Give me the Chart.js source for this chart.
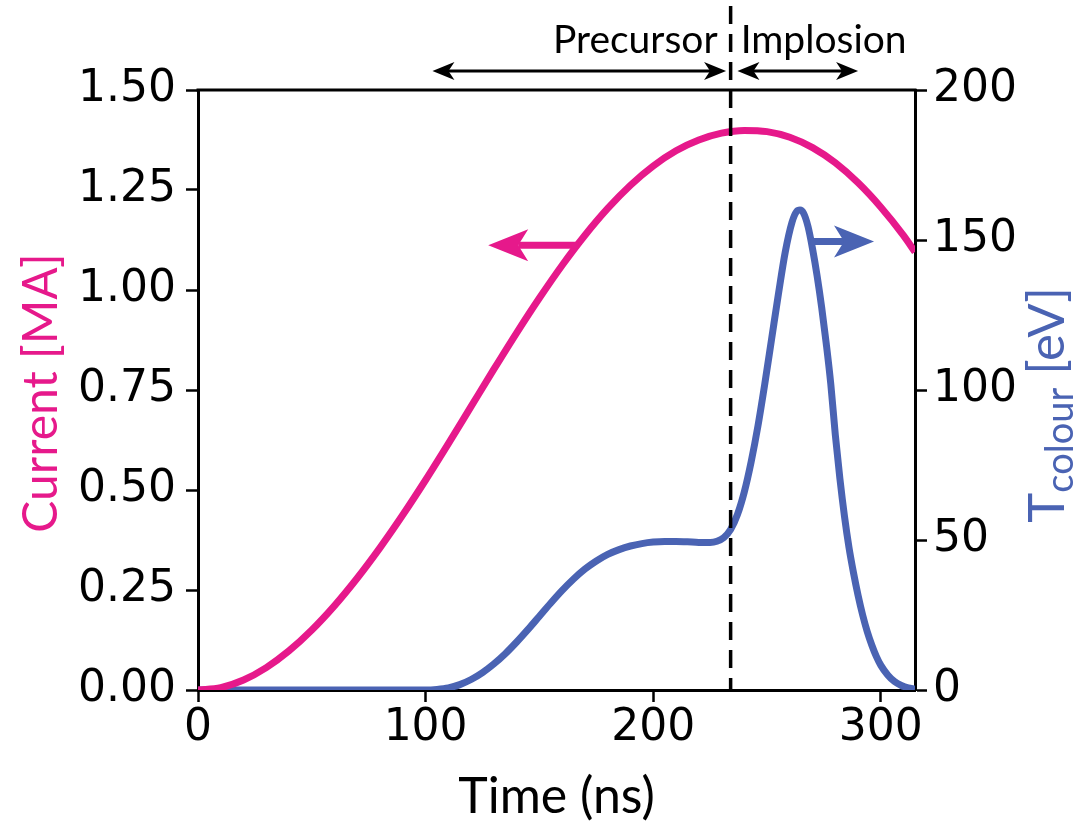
<!DOCTYPE html>
<html>
<head>
<meta charset="utf-8">
<script src="https://cdn.jsdelivr.net/npm/chart.js@4/dist/chart.umd.min.js"></script>
<style>
  html, body { margin: 0; padding: 0; background: #ffffff; }
  #wrap { width: 1086px; height: 822px; position: relative; }
</style>
</head>
<body>
<div id="wrap"><canvas id="c"></canvas></div>
<script>
// ---- data ----
const timeNs = [0, 10, 20, 30, 40, 50, 60, 70, 80, 90, 100, 110, 120, 130, 140, 150, 160, 170, 180, 190, 200, 210, 220, 230, 240, 250, 260, 270, 280, 290, 300, 310, 315];
const currentMA = [0, 0.006, 0.025, 0.056, 0.098, 0.150, 0.211, 0.280, 0.356, 0.438, 0.525, 0.616, 0.709, 0.802, 0.893, 0.980, 1.062, 1.137, 1.204, 1.262, 1.310, 1.348, 1.375, 1.392, 1.399, 1.396, 1.382, 1.356, 1.318, 1.268, 1.207, 1.136, 1.095];

const tempTimeNs = [0, 100, 105, 110, 115, 120, 125, 130, 135, 140, 145, 150, 155, 160, 165, 170, 175, 180, 185, 190, 195, 200, 205, 210, 215, 220, 225, 228, 231, 234, 237, 240, 243, 246, 249, 252, 255, 258, 261, 263, 264.5, 266, 268, 270, 272, 274, 276, 278, 280, 282, 284, 286, 288, 290, 292, 294, 296, 298, 300, 303, 306, 309, 312, 315];
const tempEV = [0, 0, 0.2, 0.7, 1.8, 3.5, 5.8, 8.7, 12.1, 16, 20.2, 24.6, 29, 33.2, 37, 40.3, 43, 45.2, 46.8, 48, 48.8, 49.3, 49.5, 49.5, 49.4, 49.2, 49.2, 49.6, 50.8, 53.5, 58.5, 66, 76, 88, 102, 117, 132, 146, 156, 159.5, 160, 159, 154.5, 147, 138, 127.5, 115.5, 102, 85, 70.5, 58, 47.5, 39, 31.5, 25, 19.5, 15, 11.2, 8.2, 5, 2.8, 1.5, 0.7, 0.3];

const xTicks = [0, 100, 200, 300];
const yLeftTicks = [0, 0.25, 0.5, 0.75, 1.0, 1.25, 1.5];
const yRightTicks = [0, 50, 100, 150, 200];

const splitTimeNs = 234;            // dashed separator
const precursorSpan = [103, 232];    // arrow span (ns)
const implosionSpan = [237, 290];    // arrow span (ns)

const PINK = '#e6198b';
const BLUE = '#4a63b3';
const TICK_FONT = { family: 'DejaVu Sans', size: 44 };

function arrowHead(ctx, tipX, tipY, dir, len, half, notch) {
  ctx.beginPath();
  ctx.moveTo(tipX, tipY);
  ctx.lineTo(tipX - dir * len, tipY - half);
  ctx.lineTo(tipX - dir * (len - notch), tipY);
  ctx.lineTo(tipX - dir * len, tipY + half);
  ctx.closePath();
  ctx.fill();
}

const overlay = {
  id: 'overlay',
  afterDatasetsDraw(chart) {
    const { ctx, chartArea: a, scales } = chart;
    const x = scales.x, y = scales.y, y2 = scales.y2;
    ctx.save();
    // top spine
    ctx.strokeStyle = '#000';
    ctx.lineWidth = 3;
    ctx.beginPath();
    ctx.moveTo(a.left - 1.5, a.top);
    ctx.lineTo(a.right + 1.5, a.top);
    ctx.stroke();

    // dashed separator
    const xs = x.getPixelForValue(splitTimeNs);
    ctx.setLineDash([18, 10]);
    ctx.lineWidth = 3.5;
    ctx.beginPath();
    ctx.moveTo(xs, 6);
    ctx.lineTo(xs, a.bottom);
    ctx.stroke();
    ctx.setLineDash([]);

    // top double arrows
    const ay = 71;
    ctx.lineWidth = 3;
    ctx.fillStyle = '#000';
    [precursorSpan, implosionSpan].forEach(([t0, t1]) => {
      const p0 = x.getPixelForValue(t0), p1 = x.getPixelForValue(t1);
      ctx.beginPath();
      ctx.moveTo(p0 + 8, ay);
      ctx.lineTo(p1 - 8, ay);
      ctx.stroke();
      arrowHead(ctx, p0, ay, -1, 22, 9, 6);
      arrowHead(ctx, p1, ay, 1, 22, 9, 6);
    });

    // top labels
    ctx.font = '39px Lato';
    ctx.textBaseline = 'alphabetic';
    ctx.fillStyle = '#000';
    ctx.textAlign = 'right';
    ctx.fillText('Precursor', xs - 13, 53);
    ctx.textAlign = 'left';
    ctx.fillText('Implosion', xs + 10, 53);

    // pink axis-pointer arrow
    const py = y.getPixelForValue(1.112);
    const pTail = x.getPixelForValue(167), pTip = x.getPixelForValue(127.5);
    ctx.strokeStyle = PINK; ctx.fillStyle = PINK; ctx.lineWidth = 7;
    ctx.beginPath(); ctx.moveTo(pTail, py); ctx.lineTo(pTip + 30, py); ctx.stroke();
    arrowHead(ctx, pTip, py, -1, 40, 16, 10);

    // blue axis-pointer arrow
    const by = y2.getPixelForValue(149.5);
    const bTail = x.getPixelForValue(269), bTip = x.getPixelForValue(297);
    ctx.strokeStyle = BLUE; ctx.fillStyle = BLUE;
    ctx.beginPath(); ctx.moveTo(bTail, by); ctx.lineTo(bTip - 30, by); ctx.stroke();
    arrowHead(ctx, bTip, by, 1, 40, 16, 10);

    // axis titles
    ctx.textAlign = 'center';
    ctx.textBaseline = 'middle';
    ctx.fillStyle = '#000';
    ctx.font = '50px Lato';
    ctx.fillText('Time (ns)', (a.left + a.right) / 2, 797);

    ctx.save();
    ctx.translate(42, 393);
    ctx.rotate(-Math.PI / 2);
    ctx.font = '48px Lato';
    ctx.fillStyle = PINK;
    ctx.fillText('Current [MA]', 0, 0);
    ctx.restore();

    // right title with subscript
    ctx.save();
    ctx.translate(1046, 405);
    ctx.rotate(-Math.PI / 2);
    ctx.fillStyle = BLUE;
    ctx.textAlign = 'left';
    ctx.textBaseline = 'alphabetic';
    const big = '51px Lato', small = '38px Lato';
    ctx.font = big; const wT = ctx.measureText('T').width;
    ctx.font = small; const wS = ctx.measureText('colour').width;
    ctx.font = big; const wE = ctx.measureText(' [eV]').width;
    let cx = -(wT + wS + wE) / 2;
    const base = 18;
    ctx.font = big; ctx.fillText('T', cx, base); cx += wT;
    ctx.font = small; ctx.fillText('colour', cx, base + 9); cx += wS;
    ctx.font = big; ctx.fillText(' [eV]', cx, base);
    ctx.restore();

    ctx.restore();
  }
};

const commonGrid = { display: true, drawOnChartArea: false, drawTicks: true, tickLength: 12, tickWidth: 2.5, tickColor: '#000' };
const commonBorder = { display: true, color: '#000', width: 3 };

new Chart(document.getElementById('c'), {
  type: 'line',
  data: {
    datasets: [
      {
        label: 'Current [MA]',
        data: timeNs.map((t, i) => ({ x: t, y: currentMA[i] })),
        yAxisID: 'y',
        borderColor: PINK,
        borderWidth: 7,
        pointRadius: 0,
        cubicInterpolationMode: 'monotone',
        fill: false
      },
      {
        label: 'T colour [eV]',
        data: tempTimeNs.map((t, i) => ({ x: t, y: tempEV[i] })),
        yAxisID: 'y2',
        borderColor: BLUE,
        borderWidth: 7,
        pointRadius: 0,
        cubicInterpolationMode: 'monotone',
        fill: false
      }
    ]
  },
  options: {
    responsive: true,
    maintainAspectRatio: false,
    animation: false,
    layout: { padding: { top: 90, left: 0, right: 0, bottom: 0 } },
    plugins: { legend: { display: false }, tooltip: { enabled: false } },
    scales: {
      x: {
        type: 'linear', position: 'bottom', min: 0, max: 315,
        afterBuildTicks: s => { s.ticks = xTicks.map(v => ({ value: v })); },
        ticks: { font: TICK_FONT, color: '#000', padding: 0, maxRotation: 0, callback: v => String(v) },
        grid: commonGrid, border: commonBorder,
        afterFit: s => { s.height = 132; }
      },
      y: {
        type: 'linear', position: 'left', min: 0, max: 1.5,
        afterBuildTicks: s => { s.ticks = yLeftTicks.map(v => ({ value: v })); },
        ticks: { font: TICK_FONT, color: '#000', padding: 10, callback: v => Number(v).toFixed(2) },
        grid: commonGrid, border: commonBorder,
        afterFit: s => { s.width = 198; }
      },
      y2: {
        type: 'linear', position: 'right', min: 0, max: 200,
        afterBuildTicks: s => { s.ticks = yRightTicks.map(v => ({ value: v })); },
        ticks: { font: TICK_FONT, color: '#000', padding: 6, callback: v => String(v) },
        grid: commonGrid, border: commonBorder,
        afterFit: s => { s.width = 171; }
      }
    }
  },
  plugins: [overlay]
});
</script>
</body>
</html>
